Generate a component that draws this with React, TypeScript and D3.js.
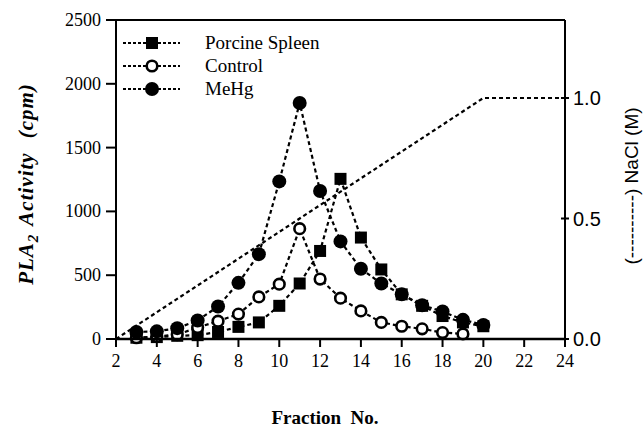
import React from "react";
import * as d3 from "d3";

const fractions = [3, 4, 5, 6, 7, 8, 9, 10, 11, 12, 13, 14, 15, 16, 17, 18, 19, 20];
const porcineSpleen = [10, 15, 25, 30, 55, 95, 130, 260, 435, 690, 1255, 795, 545, 350, 260, 180, 130, 100];
const controlFractions = [3, 4, 5, 6, 7, 8, 9, 10, 11, 12, 13, 14, 15, 16, 17, 18, 19];
const control = [10, 20, 35, 90, 140, 195, 330, 430, 865, 470, 320, 220, 130, 100, 80, 50, 40];
const meHg = [55, 60, 85, 145, 255, 440, 665, 1235, 1850, 1160, 765, 550, 435, 350, 265, 215, 150, 110];
const naclFractions = [2, 20, 24];
const naclValues = [0, 1.0, 1.0];
const xTicks = [2, 4, 6, 8, 10, 12, 14, 16, 18, 20, 22, 24];
const yTicks = [0, 500, 1000, 1500, 2000, 2500];
const y2Ticks = [0.0, 0.5, 1.0];
const legendLabels = ["Porcine Spleen", "Control", "MeHg"];

export default function App() {
  const left = 116, right = 565, top = 20, bottom = 339;
  const x = d3.scaleLinear().domain([2, 24]).range([left, right]);
  const y = d3.scaleLinear().domain([0, 2500]).range([bottom, top]);
  const y2 = d3.scaleLinear().domain([0, 1]).range([bottom, 98]);
  const line = d3.line<[number, number]>().x(d => x(d[0])).y(d => y(d[1]));
  const naclLine = d3.line<[number, number]>().x(d => x(d[0])).y(d => y2(d[1]));
  const serif = "'Liberation Serif', 'DejaVu Serif', 'Times New Roman', serif";
  const sans = "'Liberation Sans', Arial, sans-serif";
  const dash = "4,3";
  const sw = 2.2;

  const series = [
    { xs: fractions, vs: porcineSpleen, kind: "square" },
    { xs: controlFractions, vs: control, kind: "open" },
    { xs: fractions, vs: meHg, kind: "filled" },
  ];

  const marker = (kind: string, cx: number, cy: number, key: any) => {
    if (kind === "square") return <rect key={key} x={cx - 6} y={cy - 6} width={12} height={12} fill="#000" />;
    if (kind === "open") return <circle key={key} cx={cx} cy={cy} r={5.3} fill="#fff" stroke="#000" strokeWidth={2.6} />;
    return <circle key={key} cx={cx} cy={cy} r={7} fill="#000" />;
  };

  return (
    <svg width={643} height={431} style={{ position: "absolute", left: 0, top: 0, background: "#fff" }}>
      <rect width={643} height={431} fill="#fff" />
      <path d={naclLine(naclFractions.map((f, i) => [f, naclValues[i]]) as any) || ""} fill="none" stroke="#000" strokeWidth={sw} strokeDasharray={dash} />
      {series.map((s, i) => (
        <path key={"l" + i} d={line(s.xs.map((f, j) => [f, s.vs[j]]) as any) || ""} fill="none" stroke="#000" strokeWidth={sw} strokeDasharray={dash} />
      ))}
      {series.map((s, i) => (
        <g key={"m" + i}>{s.xs.map((f, j) => marker(s.kind, x(f), y(s.vs[j]), j))}</g>
      ))}
      <line x1={left} x2={right} y1={top} y2={top} stroke="#000" strokeWidth={2} />
      <line x1={left} x2={left} y1={top} y2={bottom} stroke="#000" strokeWidth={2} />
      <line x1={right} x2={right} y1={top} y2={bottom + 8} stroke="#000" strokeWidth={2} />
      <line x1={left} x2={right} y1={bottom} y2={bottom} stroke="#000" strokeWidth={2.5} />
      {xTicks.map(t => (
        <g key={"x" + t}>
          <line x1={x(t)} x2={x(t)} y1={bottom} y2={bottom + 8} stroke="#000" strokeWidth={2} />
          <text x={x(t)} y={367} textAnchor="middle" fontFamily={serif} fontSize={18}>{t}</text>
        </g>
      ))}
      {yTicks.map(t => (
        <g key={"y" + t}>
          <line x1={left - 10} x2={left} y1={y(t)} y2={y(t)} stroke="#000" strokeWidth={2} />
          <text x={left - 15} y={y(t) + 6} textAnchor="end" fontFamily={serif} fontSize={18}>{t}</text>
        </g>
      ))}
      {y2Ticks.map(t => (
        <g key={"r" + t}>
          <line x1={right - 4} x2={right + 4} y1={y2(t)} y2={y2(t)} stroke="#000" strokeWidth={2} />
          <text x={right + 8} y={y2(t) + 7} textAnchor="start" fontFamily={sans} fontSize={20}>{t.toFixed(1)}</text>
        </g>
      ))}
      {legendLabels.map((lab, i) => {
        const ly = 43 + i * 23;
        const kind = series[i].kind;
        return (
          <g key={"lg" + i}>
            <line x1={123} x2={180} y1={ly} y2={ly} stroke="#000" strokeWidth={sw} strokeDasharray="3,2" />
            {marker(kind, 152, ly, "mk")}
            <text x={205} y={ly + 6} fontFamily={serif} fontSize={19}>{lab}</text>
          </g>
        );
      })}
      <text x={325} y={424} textAnchor="middle" fontFamily={serif} fontSize={19} fontWeight="bold" xmlSpace="preserve">Fraction  No.</text>
      <text transform={`translate(33,184) rotate(-90)`} textAnchor="middle" fontFamily={serif} fontSize={21} fontWeight="bold" fontStyle="italic" xmlSpace="preserve" letterSpacing={1}>
        PLA<tspan fontSize={15} dy={5}>2</tspan><tspan dy={-5} dx={8}>Activity</tspan><tspan dx={14}>(cpm)</tspan>
      </text>
      <text transform={`translate(638,186) rotate(-90)`} textAnchor="middle" fontFamily={sans} fontSize={19} xmlSpace="preserve">
        (----------) NaCl (M)
      </text>
    </svg>
  );
}
